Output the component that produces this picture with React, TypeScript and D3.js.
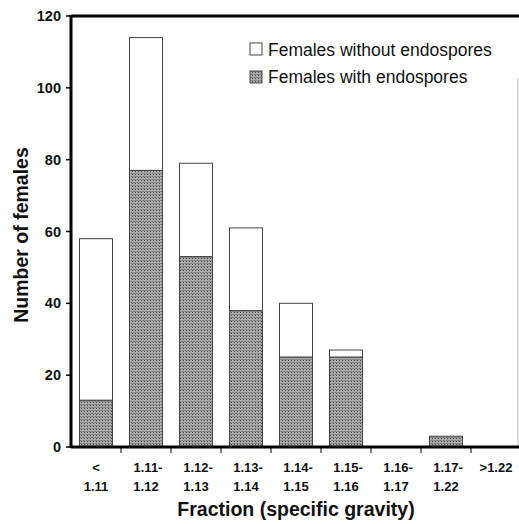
import React from "react";
import * as d3 from "d3";

const categories = ["< 1.11", "1.11- 1.12", "1.12- 1.13", "1.13- 1.14", "1.14- 1.15", "1.15- 1.16", "1.16- 1.17", "1.17- 1.22", ">1.22"];
const withEndospores = [13, 77, 53, 38, 25, 25, 0, 3, 0];
const withoutEndospores = [45, 37, 26, 23, 15, 2, 0, 0, 0];
const yTicks = [0, 20, 40, 60, 80, 100, 120];
const seriesNames = ["Females without endospores", "Females with endospores"];

export default function App() {
  const W = 519, H = 524;
  const left = 71, right = 521, top = 16, bottom = 447;
  const x = d3.scaleBand<string>().domain(categories).range([left, right]).paddingInner(0.34).paddingOuter(0.17);
  const y = d3.scaleLinear().domain([0, 120]).range([bottom, top]);
  const boundaries = categories.map((_, i) => left + (i + 1) * ((right - left) / categories.length));
  const font = "'Liberation Sans', Arial, sans-serif";
  return (
    <svg width={W} height={H} style={{ position: "absolute", left: 0, top: 0 }} fontFamily={font}>
      <defs>
        <pattern id="dots" width="3" height="3" patternUnits="userSpaceOnUse">
          <rect width="3" height="3" fill="#ababab" />
          <rect width="1" height="1" fill="#4a4a4a" />
          <rect x="2" y="2" width="1" height="1" fill="#6a6a6a" />
          <rect x="0" y="2" width="3" height="0.6" fill="#808080" />
        </pattern>
      </defs>
      <rect width={W} height={H} fill="#fff" />
      {categories.map((c, i) => {
        const bx = x(c)!;
        const bw = x.bandwidth();
        const a = withEndospores[i];
        const b = withoutEndospores[i];
        return (
          <g key={c}>
            {b > 0 && (
              <rect x={bx} y={y(a + b)} width={bw} height={y(a) - y(a + b)} fill="#fff" stroke="#444" strokeWidth={1} />
            )}
            {a > 0 && (
              <rect x={bx} y={y(a)} width={bw} height={y(0) - y(a)} fill="url(#dots)" stroke="#444" strokeWidth={1} />
            )}
          </g>
        );
      })}
      <line x1={left} x2={W} y1={top} y2={top} stroke="#000" strokeWidth={3} />
      <line x1={518} x2={518} y1={78} y2={bottom} stroke="#bbb" strokeWidth={1} />
      <line x1={left} x2={left} y1={top - 1} y2={bottom + 1} stroke="#000" strokeWidth={3} />
      <line x1={left} x2={W} y1={bottom} y2={bottom} stroke="#000" strokeWidth={3} />
      {yTicks.map((t) => (
        <g key={t}>
          <line x1={left - 5} x2={left} y1={y(t)} y2={y(t)} stroke="#000" strokeWidth={1.5} />
          <text x={61} y={y(t)} dy="0.35em" textAnchor="end" fontSize={14.5} fontWeight="bold" fill="#111">{t}</text>
        </g>
      ))}
      {boundaries.slice(0, -1).map((bx, i) => (
        <line key={i} x1={bx} x2={bx} y1={bottom} y2={bottom + 6} stroke="#000" strokeWidth={1} />
      ))}
      {categories.map((c) => {
        const cx = x(c)! + x.bandwidth() / 2;
        const parts = c.split(" ");
        return (
          <text key={c} textAnchor="middle" fontSize={13} fontWeight="bold" fill="#111">
            {parts.map((p, j) => (
              <tspan key={j} x={cx + (parts.length > 1 && j === 0 && p.endsWith("-") ? 2 : 0)} y={j === 0 ? 472 : 491}>{p}</tspan>
            ))}
          </text>
        );
      })}
      <text x={296} y={516} textAnchor="middle" fontSize={19.5} fontWeight="bold" fill="#111">Fraction (specific gravity)</text>
      <text transform="translate(28,235) rotate(-90)" textAnchor="middle" fontSize={19.5} fontWeight="bold" fill="#111">Number of females</text>
      <rect x={250} y={43} width={12} height={12} fill="#fff" stroke="#444" strokeWidth={1} />
      <text x={268} y={56} fontSize={17.5} fill="#111">{seriesNames[0]}</text>
      <rect x={250} y={71} width={12} height={12} fill="url(#dots)" stroke="#444" strokeWidth={1} />
      <text x={268} y={83} fontSize={17.5} fill="#111">{seriesNames[1]}</text>
    </svg>
  );
}
